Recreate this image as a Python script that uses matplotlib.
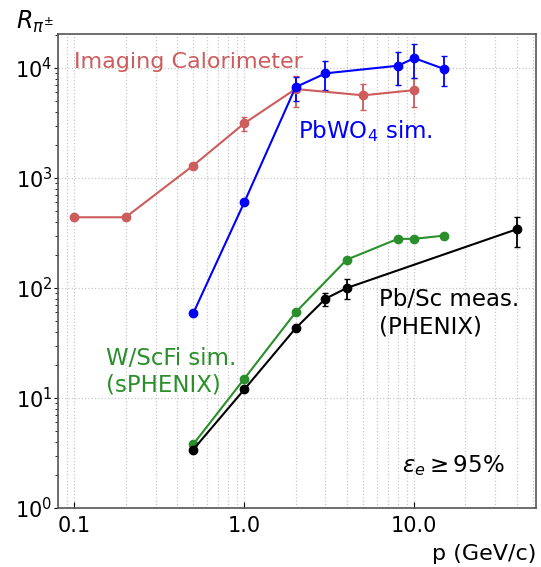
import matplotlib
matplotlib.use("Agg")
import matplotlib.pyplot as plt
from matplotlib.ticker import FixedLocator, FixedFormatter, LogLocator, NullFormatter

# Imaging calorimeter (red)
p_img = [0.1, 0.2, 0.5, 1.0, 2.0, 5.0, 10.0]
r_img = [440, 440, 1300, 3150, 6450, 5650, 6300]
e_img = [0, 0, 0, 450, 2000, 1500, 1850]

# PbWO4 simulation (blue)
p_pbwo = [0.5, 1.0, 2.0, 3.0, 8.0, 10.0, 15.0]
r_pbwo = [59, 605, 6700, 8950, 10500, 12300, 9800]
e_pbwo = [0, 0, 1650, 2600, 3500, 4200, 3000]

# W/ScFi simulation, sPHENIX (green)
p_wscfi = [0.5, 1.0, 2.0, 4.0, 8.0, 10.0, 15.0]
r_wscfi = [3.8, 15, 60, 181, 280, 280, 300]

# Pb/Sc measurement, PHENIX (black)
p_pbsc = [0.5, 1.0, 2.0, 3.0, 4.0, 40.0]
r_pbsc = [3.4, 12, 43, 80, 100, 342]
e_pbsc = [0, 0, 0, 11, 20, 105]

xticks = [0.1, 1.0, 10.0]
xticklabels = ["0.1", "1.0", "10.0"]
yticks = [1, 10, 100, 1000, 10000]
yticklabels = [r"$10^{0}$", r"$10^{1}$", r"$10^{2}$", r"$10^{3}$", r"$10^{4}$"]

red = "#cd5c5c"
green = "#2a8f2a"

fig = plt.figure(figsize=(5.41, 5.67), dpi=100)
ax = fig.add_axes([58 / 541, 59 / 567, 478 / 541, 474 / 567])

style = dict(marker="o", markersize=6, linewidth=1.5, capsize=2.5, elinewidth=1.3)
ax.errorbar(p_img, r_img, yerr=e_img, color=red, **style)
ax.errorbar(p_pbwo, r_pbwo, yerr=e_pbwo, color="blue", **style)
ax.plot(p_wscfi, r_wscfi, marker="o", markersize=6, linewidth=1.5, color=green)
ax.errorbar(p_pbsc, r_pbsc, yerr=e_pbsc, color="black", **style)

ax.set_xscale("log")
ax.set_yscale("log")
ax.set_xlim(0.08, 52)
ax.set_ylim(1, 2.04e4)

ax.xaxis.set_major_locator(FixedLocator(xticks))
ax.xaxis.set_major_formatter(FixedFormatter(xticklabels))
ax.xaxis.set_minor_locator(LogLocator(base=10, subs=range(2, 10)))
ax.xaxis.set_minor_formatter(NullFormatter())
ax.yaxis.set_major_locator(FixedLocator(yticks))
ax.yaxis.set_major_formatter(FixedFormatter(yticklabels))
ax.yaxis.set_minor_locator(LogLocator(base=10, subs=range(2, 10)))
ax.yaxis.set_minor_formatter(NullFormatter())

ax.tick_params(axis="x", which="major", length=4, direction="in", labelsize=15, pad=6)
ax.tick_params(axis="x", which="minor", length=0)
ax.tick_params(axis="y", which="major", length=3, direction="out", labelsize=15, pad=1)
ax.tick_params(axis="y", which="minor", length=2, direction="out")

ax.grid(True, which="major", axis="both", linestyle=":", color="#c8c8c8", linewidth=0.9)
ax.grid(True, which="minor", axis="x", linestyle=":", color="#c8c8c8", linewidth=0.9)
ax.set_axisbelow(True)
for s in ax.spines.values():
    s.set_color("#555555")
    s.set_linewidth(1.2)

# multi-line texts: baseline refers to the last line
ax.text(0.1, 1.0e4, "Imaging Calorimeter", color=red, fontsize=16, va="baseline")
ax.text(2.07, 2300, r"PbWO$_4$ sim.", color="blue", fontsize=16.5, va="baseline")
ax.text(6.2, 39, "Pb/Sc meas.\n(PHENIX)", color="black", fontsize=16.5, va="baseline",
        linespacing=1.2)
ax.text(0.154, 11.5, "W/ScFi sim.\n(sPHENIX)", color=green, fontsize=16.5, va="baseline",
        linespacing=1.2)
ax.text(8.5, 2.14, r"$\varepsilon_e \geq 95\%$", color="black", fontsize=16.5, va="baseline")

ax.text(-0.088, 1.012, r"$R_{\pi^{\pm}}$", transform=ax.transAxes, fontsize=17,
        ha="left", va="baseline")
ax.text(1.0, -0.11, "p (GeV/c)", transform=ax.transAxes, fontsize=16,
        ha="right", va="baseline")

fig.savefig("out.png", dpi=100)
